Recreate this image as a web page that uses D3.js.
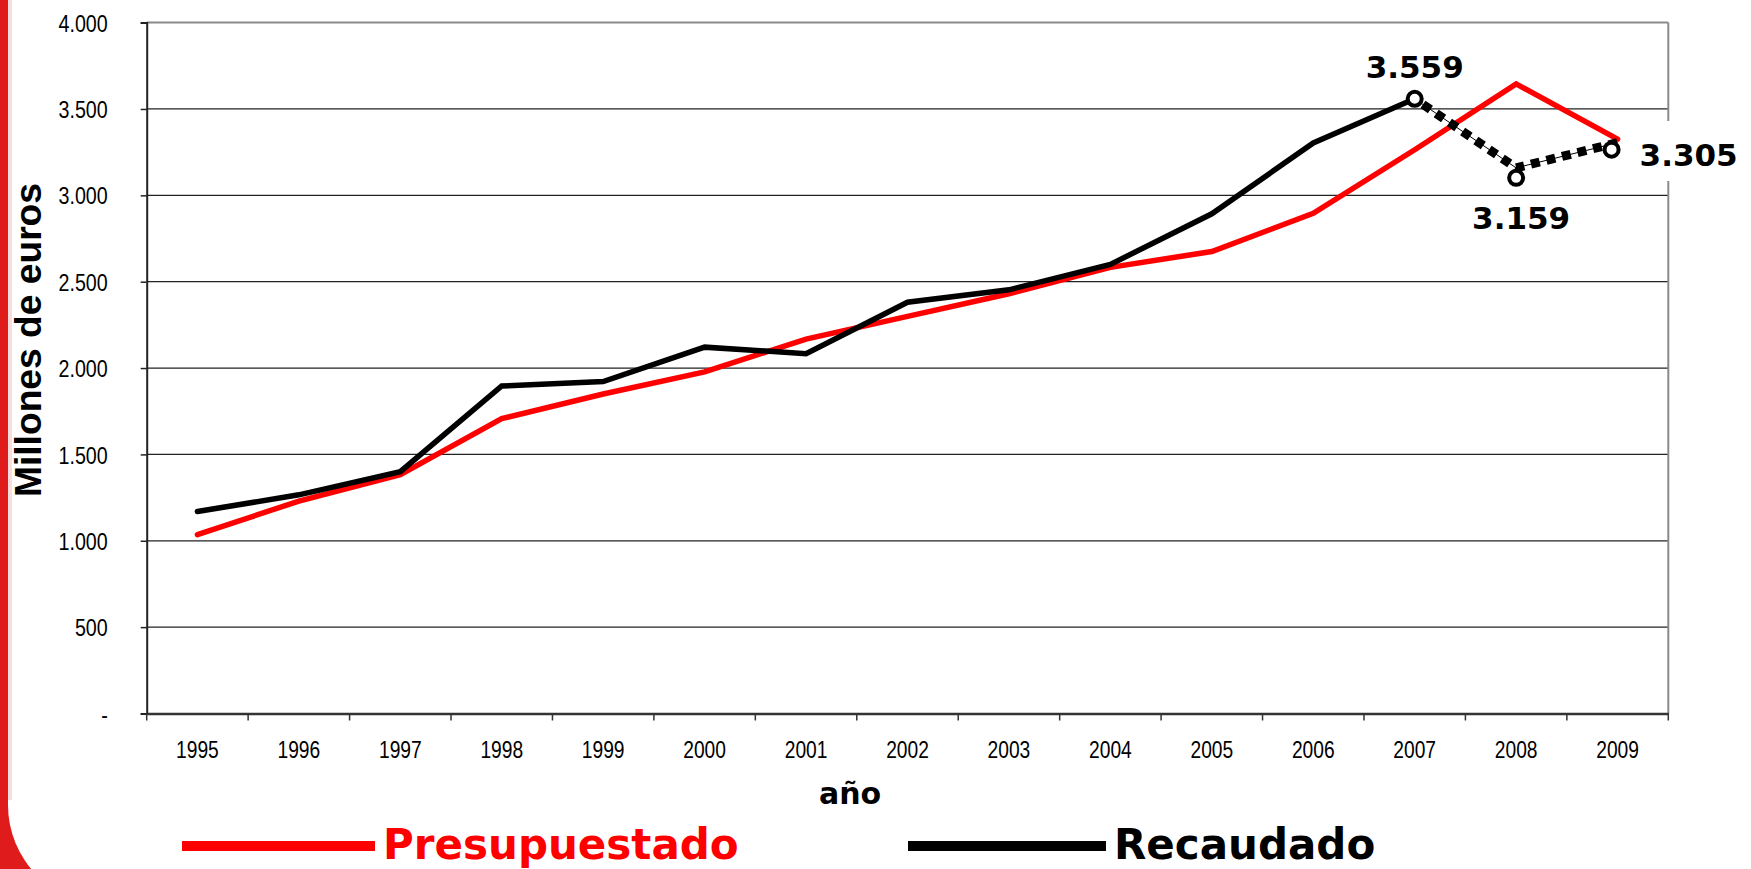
<!DOCTYPE html>
<html lang="es">

<head>
    <meta charset="UTF-8" />
    <title>Presupuestado vs Recaudado</title>
    <style>
        body {
            margin: 0;
            background: #fff;
        }

        svg {
            display: block;
        }

        .tick-label {
            font-family: "Liberation Sans", Arial, sans-serif;
            font-size: 24px;
            fill: #000;
        }

        .bold-label {
            font-family: "DejaVu Sans", Verdana, sans-serif;
            font-weight: bold;
        }
    </style>
</head>

<body>
    <svg></svg>
    <script src="https://d3js.org/d3.v7.min.js"></script>
    <script>
        const width = 1751;
        const height = 869;

        // data (millones de euros)
        const years = ["1995", "1996", "1997", "1998", "1999", "2000", "2001", "2002",
            "2003", "2004", "2005", "2006", "2007", "2008", "2009"];
        const presupuestado = [1035, 1230, 1383, 1707, 1850, 1978, 2168, 2299,
            2430, 2583, 2675, 2896, 3264, 3645, 3325];
        const recaudado = [1169, 1266, 1400, 1896, 1922, 2121, 2083, 2381,
            2453, 2600, 2893, 3303, 3559, 3159, 3305];
        const yTicks = [0, 500, 1000, 1500, 2000, 2500, 3000, 3500, 4000];
        const callouts = [
            { year: "2007", value: 3559, label: "3.559" },
            { year: "2008", value: 3159, label: "3.159" },
            { year: "2009", value: 3305, label: "3.305" }
        ];

        const plot = { left: 146.7, right: 1668.3, top: 22.6, bottom: 713.5 };

        const svg = d3.select("svg")
            .attr("width", width)
            .attr("height", height);

        // red frame on the left with rounded white panel (only bottom corner shows)
        svg.append("rect")
            .attr("x", 0).attr("y", 0)
            .attr("width", 60).attr("height", height)
            .attr("fill", "#e01b1b");
        svg.append("rect")
            .attr("x", 8).attr("y", -300)
            .attr("width", width).attr("height", 1205)
            .attr("rx", 100).attr("ry", 100)
            .attr("fill", "#fff");
        svg.append("rect")
            .attr("x", 8).attr("y", 0)
            .attr("width", 4).attr("height", 800)
            .attr("fill", "#f6dede");

        const x = d3.scaleBand()
            .domain(years)
            .range([plot.left, plot.right])
            .paddingInner(0).paddingOuter(0);

        const y = d3.scaleLinear()
            .domain([0, 4000])
            .range([plot.bottom, plot.top]);

        const es = d3.formatLocale({ decimal: ",", thousands: ".", grouping: [3], currency: ["", " €"] });
        const fmt = d => d === 0 ? "-" : es.format(",")(d);

        const cx = d => x(d) + x.bandwidth() / 2;

        // grid lines
        svg.append("g")
            .selectAll("line")
            .data(yTicks.filter(d => d > 0))
            .join("line")
            .attr("x1", plot.left)
            .attr("x2", plot.right)
            .attr("y1", d => y(d))
            .attr("y2", d => y(d))
            .attr("stroke", d => d === 4000 ? "#8a8a8a" : "#222")
            .attr("stroke-width", d => d === 4000 ? 2 : 1.3);

        // right border
        svg.append("line")
            .attr("x1", plot.right).attr("x2", plot.right)
            .attr("y1", plot.top).attr("y2", plot.bottom)
            .attr("stroke", "#8a8a8a")
            .attr("stroke-width", 2);

        // y axis
        const yAxis = svg.append("g")
            .attr("transform", `translate(${plot.left},0)`)
            .call(d3.axisLeft(y).tickValues(yTicks).tickFormat(fmt).tickSize(6).tickPadding(0));
        yAxis.select(".domain").attr("stroke", "#222").attr("stroke-width", 2);
        yAxis.selectAll(".tick line").attr("stroke", "#222").attr("stroke-width", 1.5);
        yAxis.selectAll(".tick text")
            .attr("class", "tick-label")
            .attr("x", -39 / 0.82)
            .attr("dy", "0.36em")
            .attr("transform", "scale(0.82,1)");

        // x axis
        const xAxis = svg.append("g")
            .attr("transform", `translate(0,${plot.bottom})`)
            .call(d3.axisBottom(x).tickSize(0));
        xAxis.select(".domain").attr("stroke", "#333").attr("stroke-width", 2.5);
        xAxis.selectAll(".tick text")
            .attr("class", "tick-label")
            .attr("y", 45)
            .attr("dy", null)
            .attr("transform", "scale(0.8,1)");

        // boundary ticks between years
        xAxis.append("g")
            .selectAll("line")
            .data(years.concat(["end"]))
            .join("line")
            .attr("x1", d => d === "end" ? plot.right : x(d))
            .attr("x2", d => d === "end" ? plot.right : x(d))
            .attr("y1", 0)
            .attr("y2", 7)
            .attr("stroke", "#333")
            .attr("stroke-width", 1.5);

        // axis titles
        svg.append("text")
            .attr("transform", "translate(41,340) rotate(-90)")
            .attr("text-anchor", "middle")
            .attr("font-family", "'Liberation Sans', Arial, sans-serif")
            .attr("font-weight", "bold")
            .attr("font-size", 36)
            .attr("textLength", 314)
            .attr("lengthAdjust", "spacingAndGlyphs")
            .text("Millones de euros");

        svg.append("text")
            .attr("class", "bold-label")
            .attr("x", 850)
            .attr("y", 804)
            .attr("text-anchor", "middle")
            .attr("font-size", 30)
            .text("año");

        const line = d3.line()
            .x((d, i) => cx(years[i]))
            .y(d => y(d));

        // presupuestado
        svg.append("path")
            .attr("d", line(presupuestado))
            .attr("fill", "none")
            .attr("stroke", "#ff0000")
            .attr("stroke-width", 5.5)
            .attr("stroke-linejoin", "miter")
            .attr("stroke-linecap", "round");

        // recaudado, solid up to 2007
        const cut = years.indexOf("2007");
        svg.append("path")
            .attr("d", line.defined((d, i) => i <= cut)(recaudado))
            .attr("fill", "none")
            .attr("stroke", "#000")
            .attr("stroke-width", 5.5)
            .attr("stroke-linecap", "round");

        // 2007-2009: thin line with heavy dotted overlay
        const tail = d3.line()
            .x(d => cx(d.year))
            .y(d => y(d.value));
        const tailData = recaudado.map((v, i) => ({ year: years[i], value: v })).slice(cut);

        svg.append("path")
            .attr("d", tail(tailData))
            .attr("fill", "none")
            .attr("stroke", "#000")
            .attr("stroke-width", 1);
        svg.append("path")
            .attr("d", tail(tailData))
            .attr("fill", "none")
            .attr("stroke", "#000")
            .attr("stroke-width", 9)
            .attr("stroke-dasharray", "9,7")
            .attr("stroke-dashoffset", -10);

        // callout circles (hand placed a bit off the line, like the original)
        const circleOffset = { "2007": [0, 0], "2008": [0, 10], "2009": [-6, 7] };
        svg.append("g")
            .selectAll("circle")
            .data(callouts)
            .join("circle")
            .attr("cx", d => cx(d.year) + circleOffset[d.year][0])
            .attr("cy", d => y(d.value) + circleOffset[d.year][1])
            .attr("r", 7)
            .attr("fill", "#fff")
            .attr("stroke", "#000")
            .attr("stroke-width", 4);

        // white box behind the 2009 label (covers the border)
        svg.append("rect")
            .attr("x", 1630).attr("y", 121)
            .attr("width", 121).attr("height", 60)
            .attr("fill", "#fff");

        const labelPos = {
            "2007": { dx: 0, y: 78, anchor: "middle" },
            "2008": { dx: 5, y: 229, anchor: "middle" },
            "2009": { dx: 22, y: 166, anchor: "start" }
        };
        svg.append("g")
            .selectAll("text")
            .data(callouts)
            .join("text")
            .attr("class", "bold-label")
            .attr("x", d => cx(d.year) + labelPos[d.year].dx)
            .attr("y", d => labelPos[d.year].y)
            .attr("text-anchor", d => labelPos[d.year].anchor)
            .attr("font-size", 31)
            .text(d => d.label);

        // legend
        const legend = [
            { name: "Presupuestado", color: "#ff0000", x1: 182, x2: 375 },
            { name: "Recaudado", color: "#000", x1: 908, x2: 1106 }
        ];
        const lg = svg.append("g")
            .selectAll("g")
            .data(legend)
            .join("g");
        lg.append("line")
            .attr("x1", d => d.x1).attr("x2", d => d.x2)
            .attr("y1", 846).attr("y2", 846)
            .attr("stroke", d => d.color)
            .attr("stroke-width", 10);
        lg.append("text")
            .attr("class", "bold-label")
            .attr("x", d => d.x2 + 8)
            .attr("y", 859)
            .attr("font-size", 42)
            .attr("fill", d => d.color)
            .text(d => d.name);
    </script>
</body>

</html>
